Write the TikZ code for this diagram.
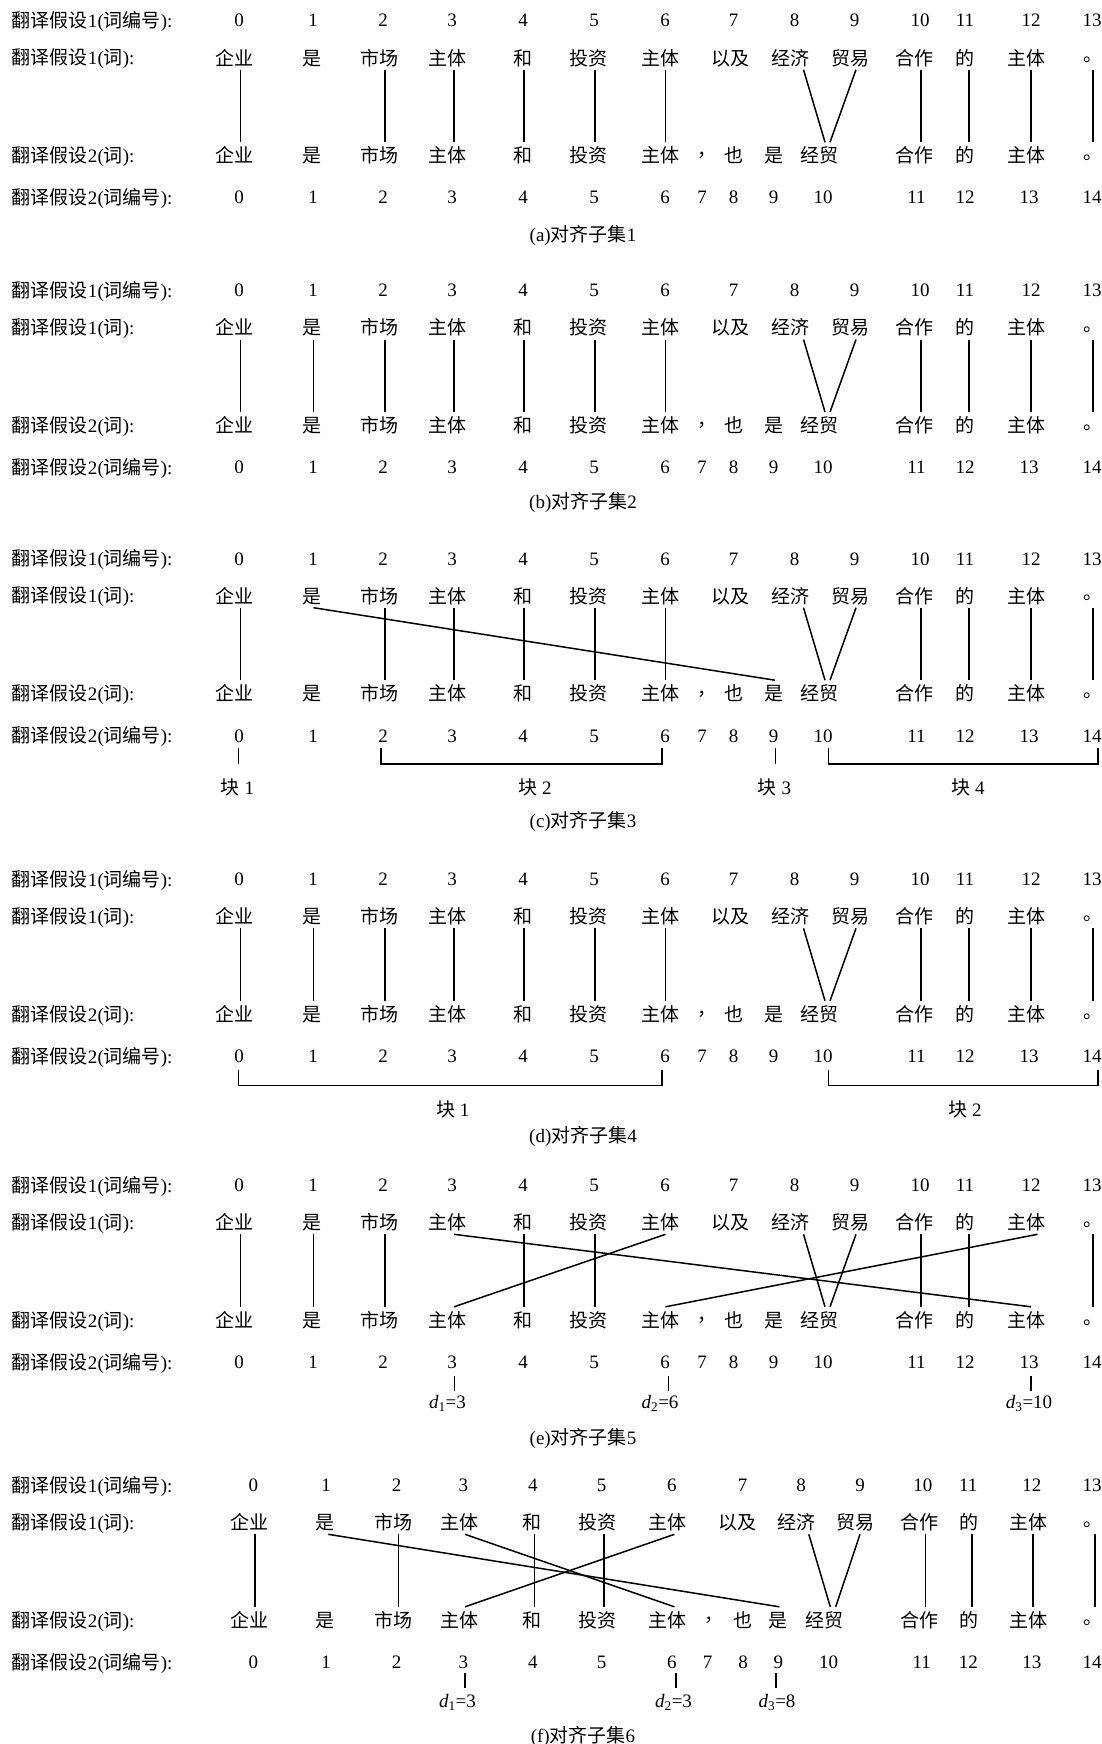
\documentclass[tikz,border=0pt]{standalone}
\usepackage{fontspec}
\setmainfont{Liberation Serif}
\newfontfamily\cjk{Noto Sans CJK SC}
\newcommand\FS{\fontsize{19}{22}\selectfont}
\newcommand\LabNum[1]{{\cjk 翻译假设}#1({\cjk 词编号}):}
\newcommand\LabWord[1]{{\cjk 翻译假设}#1({\cjk 词}):}
% common column lists (panels a-e)
\def\NA{0/239,1/313,2/383,3/452,4/523,5/594,6/665,7/733.5,8/794.5,9/854.7,10/920,11/965,12/1031,13/1092}
\def\NB{0/239,1/313,2/383,3/452,4/523,5/594,6/665,7/702,8/733.5,9/773.7,10/823,11/916.5,12/965,13/1029,14/1092}
\def\WA{0/234/企业,1/312/是,2/379.5/市场,3/447/主体,4/523/和,5/588/投资,6/660/主体,7/730/以及,8/790/经济,9/850/贸易,10/914.5/合作,11/965/的,12/1026/主体}
\def\WB{0/234/企业,1/312/是,2/379.5/市场,3/447/主体,4/523/和,5/588/投资,6/660/主体,8/733.5/也,9/773.5/是,10/819/经贸,11/914.5/合作,12/965/的,13/1026/主体}
\def\TA{0/240.5,1/313.5,2/385,3/454,4/524,5/595,6/665.5,8/803.5,9/856,10/921,11/969,12/1031,13/1093}
\def\TB{0/240.5,1/313.5,2/385,3/454,4/524,5/595,6/665.5,9/775,10/825,10r/830,11/921,12/969,13/1031,14/1093}
\newcommand\DrawPanel[4]{% #1 name, #2 base y, #3 x of full stop, #4 x of comma
  \node[lbl] (#1-l1) at (12,#2+7) {\LabNum{1}};
  \node[lbl] (#1-l2) at (12,#2+44.2) {\LabWord{1}};
  \node[lbl] (#1-l3) at (12,#2+142) {\LabWord{2}};
  \node[lbl] (#1-l4) at (12,#2+184) {\LabNum{2}};
  \foreach \i/\x in \NA {\node[num] (#1-n1-\i) at (\x,#2+6.3) {\i};}
  \foreach \i/\x in \NB {\node[num] (#1-n2-\i) at (\x,#2+183.3) {\i};}
  \foreach \i/\x/\w in \WA {\node[wd] (#1-w1-\i) at (\x,#2+44.4) {\w};}
  \foreach \i/\x/\w in \WB {\node[wd] (#1-w2-\i) at (\x,#2+142.2) {\w};}
  \node[punct] (#1-w1-13) at (#3-3.5,#2+41.1) {\makebox[7pt][l]{。}};
  \node[punct] (#1-w2-14) at (#3-3.5,#2+138.9) {\makebox[7pt][l]{。}};
  \node[punct] (#1-w2-7) at (#4-3.3,#2+136.3) {\makebox[7pt][l]{，}};
  \foreach \i/\x in \TA {\coordinate (#1-t\i) at (\x,#2+49);}
  \foreach \i/\x in \TB {\coordinate (#1-b\i) at (\x,#2+121.5);}
}
\newcommand\DrawLinks[2]{\foreach \i/\j in {#2} {\draw[link] (#1-t\i) -- (#1-b\j);}}
\begin{document}
\begin{tikzpicture}[x=1pt,y=-1pt,
  every node/.style={inner sep=0pt,outer sep=0pt,font=\FS},
  num/.style={anchor=base},
  wd/.style={anchor=base,font=\FS\cjk},
  punct/.style={anchor=base west,font=\FS\cjk},
  lbl/.style={anchor=base west},
  captxt/.style={anchor=base},
  mixtxt/.style={anchor=base},
  link/.style={line width=1.5pt},
  brk/.style={line width=1.5pt}]
\fill[white] (0,0) rectangle (1102,1744);
\useasboundingbox (0,0) rectangle (1102,1744);

% ---------- (a)
\DrawPanel{a}{20.7}{1086.5}{701}
\DrawLinks{a}{0/0,2/2,3/3,4/4,5/5,6/6,8/10,9/10r,10/11,11/12,12/13,13/14}
\node[captxt] (a-cap) at (583,242) {(a){\cjk 对齐子集}1};

% ---------- (b)
\DrawPanel{b}{290.5}{1086.5}{701}
\DrawLinks{b}{0/0,1/1,2/2,3/3,4/4,5/5,6/6,8/10,9/10r,10/11,11/12,12/13,13/14}
\node[captxt] (b-cap) at (583,508.5) {(b){\cjk 对齐子集}2};

% ---------- (c)
\DrawPanel{c}{558.7}{1086.5}{701}
\DrawLinks{c}{0/0,1/9,2/2,3/3,4/4,5/5,6/6,8/10,9/10r,10/11,11/12,12/13,13/14}
\coordinate (c-k1a) at (238.3,748);
\coordinate (c-k1b) at (238.3,764);
\draw[brk] (c-k1a) -- (c-k1b);
\coordinate (c-k2l) at (381,748);
\coordinate (c-k2r) at (662,748);
\draw[brk] (c-k2l) -- ++(0,16) -| (c-k2r);
\coordinate (c-k3a) at (775.5,748);
\coordinate (c-k3b) at (775.5,764);
\draw[brk] (c-k3a) -- (c-k3b);
\coordinate (c-k4l) at (828.5,748);
\coordinate (c-k4r) at (1098,748);
\draw[brk] (c-k4l) -- ++(0,16) -| (c-k4r);
\node[mixtxt] (c-blk1) at (237.5,794.5) {{\cjk 块} 1};
\node[mixtxt] (c-blk2) at (535,794.5) {{\cjk 块} 2};
\node[mixtxt] (c-blk3) at (774.4,794.5) {{\cjk 块} 3};
\node[mixtxt] (c-blk4) at (968,794.5) {{\cjk 块} 4};
\node[captxt] (c-cap) at (583,827) {(c){\cjk 对齐子集}3};

% ---------- (d)
\DrawPanel{d}{879.3}{1086.5}{701}
\DrawLinks{d}{0/0,1/1,2/2,3/3,4/4,5/5,6/6,8/10,9/10r,10/11,11/12,12/13,13/14}
\coordinate (d-k1l) at (238.3,1070);
\coordinate (d-k1r) at (662,1070);
\draw[brk] (d-k1l) -- ++(0,15.3) -| (d-k1r);
\coordinate (d-k2l) at (828.5,1070);
\coordinate (d-k2r) at (1098,1070);
\draw[brk] (d-k2l) -- ++(0,15.3) -| (d-k2r);
\node[mixtxt] (d-blk1) at (452.7,1116) {{\cjk 块} 1};
\node[mixtxt] (d-blk2) at (965,1116) {{\cjk 块} 2};
\node[captxt] (d-cap) at (583,1142) {(d){\cjk 对齐子集}4};

% ---------- (e)
\DrawPanel{e}{1185.3}{1086.5}{701}
\coordinate (e-t12) at (1037.5,1234.3);
\DrawLinks{e}{0/0,1/1,2/2,3/13,4/4,5/5,6/3,8/10,9/10r,10/11,11/12,12/6,13/14}
\coordinate (e-d1a) at (454.3,1376);
\coordinate (e-d1b) at (454.3,1391);
\draw[brk] (e-d1a) -- (e-d1b);
\coordinate (e-d2a) at (668.3,1376);
\coordinate (e-d2b) at (668.3,1391);
\draw[brk] (e-d2a) -- (e-d2b);
\coordinate (e-d3a) at (1031,1376);
\coordinate (e-d3b) at (1031,1391);
\draw[brk] (e-d3a) -- (e-d3b);
\node[mixtxt] (e-dl1) at (447.5,1408.3) {\textit{d}\textsubscript{1}=3};
\node[mixtxt] (e-dl2) at (660,1408.3) {\textit{d}\textsubscript{2}=6};
\node[mixtxt] (e-dl3) at (1029,1408.3) {\textit{d}\textsubscript{3}=10};
\node[captxt] (e-cap) at (583,1444) {(e){\cjk 对齐子集}5};

% ---------- (f)
\def\NA{0/253.3,1/326,2/396.7,3/463.3,4/532.9,5/601.6,6/671.9,7/742.5,8/801,9/860,10/922.8,11/968.3,12/1031.8,13/1092}
\def\NB{0/253.3,1/326,2/396.7,3/463.3,4/532.9,5/601.6,6/671.9,7/707.7,8/743.2,9/778.4,10/828.5,11/921.7,12/968.3,13/1031.8,14/1092}
\def\WA{0/249.3/企业,1/325/是,2/393.3/市场,3/459.3/主体,4/532/和,5/597.3/投资,6/667.2/主体,7/737/以及,8/796.3/经济,9/855.4/贸易,10/919.2/合作,11/969.4/的,12/1028.2/主体}
\def\WB{0/249.3/企业,1/325/是,2/393.3/市场,3/459.3/主体,4/532/和,5/597.3/投资,6/667.2/主体,8/742.5/也,9/778.4/是,10/824.2/经贸,11/919.2/合作,12/969.4/的,13/1028.2/主体}
\def\TA{0/255,1/328.3,2/398.3,3/465,4/534.6,5/603.8,6/674.4,8/808.8,9/860,10/925.3,11/971.9,12/1032.8,13/1094.8}
\def\TB{0/255,1/328.3,2/398.3,3/465,4/534.6,5/603.8,6/674.4,9/779.4,10/830.3,10r/835.7,11/925.3,12/971.9,13/1032.8,14/1094.8}
\DrawPanel{f}{1485.3}{1086.5}{707.7}
\DrawLinks{f}{0/0,1/9,2/2,3/6,4/4,5/5,6/3,8/10,9/10r,10/11,11/12,12/13,13/14}
\coordinate (f-d1a) at (465,1673);
\coordinate (f-d1b) at (465,1688);
\draw[brk] (f-d1a) -- (f-d1b);
\coordinate (f-d2a) at (676.2,1673);
\coordinate (f-d2b) at (676.2,1688);
\draw[brk] (f-d2a) -- (f-d2b);
\coordinate (f-d3a) at (775.8,1673);
\coordinate (f-d3b) at (775.8,1688);
\draw[brk] (f-d3a) -- (f-d3b);
\node[mixtxt] (f-dl1) at (457.5,1707.3) {\textit{d}\textsubscript{1}=3};
\node[mixtxt] (f-dl2) at (673.5,1707.3) {\textit{d}\textsubscript{2}=3};
\node[mixtxt] (f-dl3) at (777,1707.3) {\textit{d}\textsubscript{3}=8};
\node[captxt] (f-cap) at (583,1742) {(f){\cjk 对齐子集}6};
\end{tikzpicture}
\end{document}
